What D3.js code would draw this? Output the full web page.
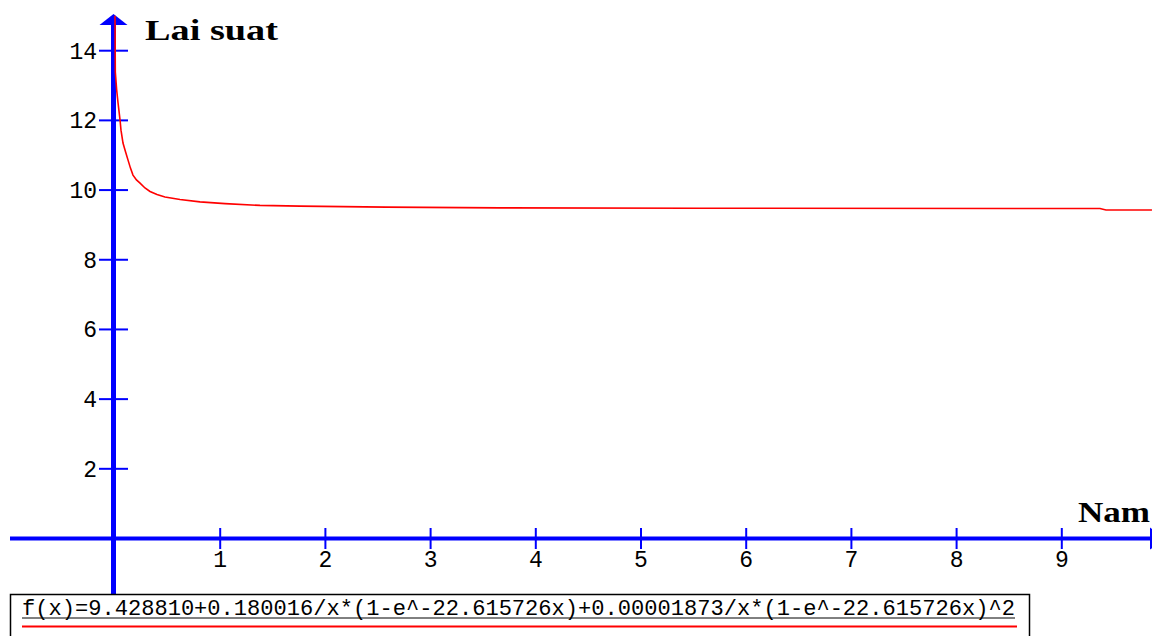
<!DOCTYPE html>
<html>
<head>
<meta charset="utf-8">
<script src="https://cdn.jsdelivr.net/npm/d3@7"></script>
<style>
  html, body { margin: 0; padding: 0; background: #ffffff; overflow: hidden; }
  svg { display: block; }
</style>
</head>
<body>
<svg id="chart" width="1152" height="636"></svg>
<script>
// ---- data ----
const years = [0, 0.003, 0.016, 0.029, 0.048, 0.057, 0.076, 0.100, 0.124, 0.147, 0.171, 0.204, 0.238, 0.285, 0.333, 0.399, 0.475, 0.618, 0.808, 1.046, 1.378, 1.759, 2.576, 3.66, 5.56, 9.363, 9.42, 9.857];
const rates = [15.0, 13.39, 12.87, 12.50, 12.01, 11.72, 11.35, 11.10, 10.86, 10.63, 10.43, 10.29, 10.20, 10.06, 9.96, 9.87, 9.80, 9.73, 9.66, 9.61, 9.56, 9.54, 9.51, 9.49, 9.48, 9.47, 9.43, 9.43];
const xTicks = [1, 2, 3, 4, 5, 6, 7, 8, 9];
const yTicks = [2, 4, 6, 8, 10, 12, 14];
const yTitle = "Lai suat";
const xTitle = "Nam";
const formula = "f(x)=9.428810+0.180016/x*(1-e^-22.615726x)+0.00001873/x*(1-e^-22.615726x)^2";

// ---- scales ----
const x = d3.scaleLinear().domain([0, 9]).range([115, 1061.8]);
const y = d3.scaleLinear().domain([0, 14]).range([538.5, 50.7]);

const svg = d3.select("#chart");
const blue = "#0000ff";
const mono = "'Liberation Mono', 'DejaVu Sans Mono', monospace";
const serif = "'Liberation Serif', 'DejaVu Serif', serif";

svg.append("rect").attr("width", 1152).attr("height", 636).attr("fill", "#ffffff");

// x axis line
svg.append("line")
  .attr("x1", 10).attr("x2", 1152)
  .attr("y1", y(0)).attr("y2", y(0))
  .attr("stroke", blue).attr("stroke-width", 4);
// x axis arrow (cut by the edge)
svg.append("path")
  .attr("d", `M1150,${y(0) - 11} L1166,${y(0)} L1150,${y(0) + 11} Z`)
  .attr("fill", blue);

// y axis line
svg.append("line")
  .attr("x1", x(0) - 1.5).attr("x2", x(0) - 1.5)
  .attr("y1", 20).attr("y2", 594)
  .attr("stroke", blue).attr("stroke-width", 5);
// y axis arrow
svg.append("path")
  .attr("d", `M${x(0) - 15.5},25 L${x(0) - 1.5},14 L${x(0) + 12.5},25 Z`)
  .attr("fill", blue);

// y ticks
svg.selectAll(".ytick").data(yTicks).join("line")
  .attr("class", "ytick")
  .attr("x1", 99).attr("x2", 128)
  .attr("y1", d => y(d)).attr("y2", d => y(d))
  .attr("stroke", blue).attr("stroke-width", 2);
svg.selectAll(".ylab").data(yTicks).join("text")
  .attr("class", "ylab")
  .attr("x", 97).attr("y", d => y(d) + 8)
  .attr("text-anchor", "end")
  .attr("font-family", mono).attr("font-size", 23)
  .attr("fill", "#000")
  .text(d => d);

// x ticks
svg.selectAll(".xtick").data(xTicks).join("line")
  .attr("class", "xtick")
  .attr("x1", d => x(d)).attr("x2", d => x(d))
  .attr("y1", 528).attr("y2", 549)
  .attr("stroke", blue).attr("stroke-width", 2);
svg.selectAll(".xlab").data(xTicks).join("text")
  .attr("class", "xlab")
  .attr("x", d => x(d)).attr("y", 567)
  .attr("text-anchor", "middle")
  .attr("font-family", mono).attr("font-size", 23)
  .attr("fill", "#000")
  .text(d => d);

// axis titles
svg.append("text")
  .attr("x", 145).attr("y", 40)
  .attr("font-family", serif).attr("font-weight", "bold").attr("font-size", 30)
  .attr("textLength", 133).attr("lengthAdjust", "spacingAndGlyphs")
  .attr("fill", "#000")
  .text(yTitle);
svg.append("text")
  .attr("x", 1078).attr("y", 522)
  .attr("font-family", serif).attr("font-weight", "bold").attr("font-size", 30)
  .attr("textLength", 72).attr("lengthAdjust", "spacingAndGlyphs")
  .attr("fill", "#000")
  .text(xTitle);

// curve
const pts = years.map((v, i) => [v, rates[i]]);
svg.append("clipPath").attr("id", "clip")
  .append("rect").attr("x", 0).attr("y", 0).attr("width", 1152).attr("height", 636);
svg.append("path")
  .datum(pts)
  .attr("clip-path", "url(#clip)")
  .attr("d", d3.line().x(d => x(d[0])).y(d => y(d[1])).curve(d3.curveLinear))
  .attr("fill", "none")
  .attr("stroke", "#ff0000")
  .attr("stroke-width", 1.6);

// formula box
svg.append("rect")
  .attr("x", 10.5).attr("y", 594.5)
  .attr("width", 1019).attr("height", 60)
  .attr("fill", "#ffffff")
  .attr("stroke", "#000").attr("stroke-width", 1.5);
svg.append("text")
  .attr("x", 22).attr("y", 615)
  .attr("font-family", mono).attr("font-size", 22)
  .attr("textLength", 993).attr("lengthAdjust", "spacingAndGlyphs")
  .attr("fill", "#000")
  .text(formula);
svg.append("line")
  .attr("x1", 22).attr("x2", 1015)
  .attr("y1", 618).attr("y2", 618)
  .attr("stroke", "#000").attr("stroke-width", 1);
svg.append("line")
  .attr("x1", 22).attr("x2", 1017)
  .attr("y1", 626.5).attr("y2", 626.5)
  .attr("stroke", "#ff0000").attr("stroke-width", 2);
</script>
</body>
</html>
